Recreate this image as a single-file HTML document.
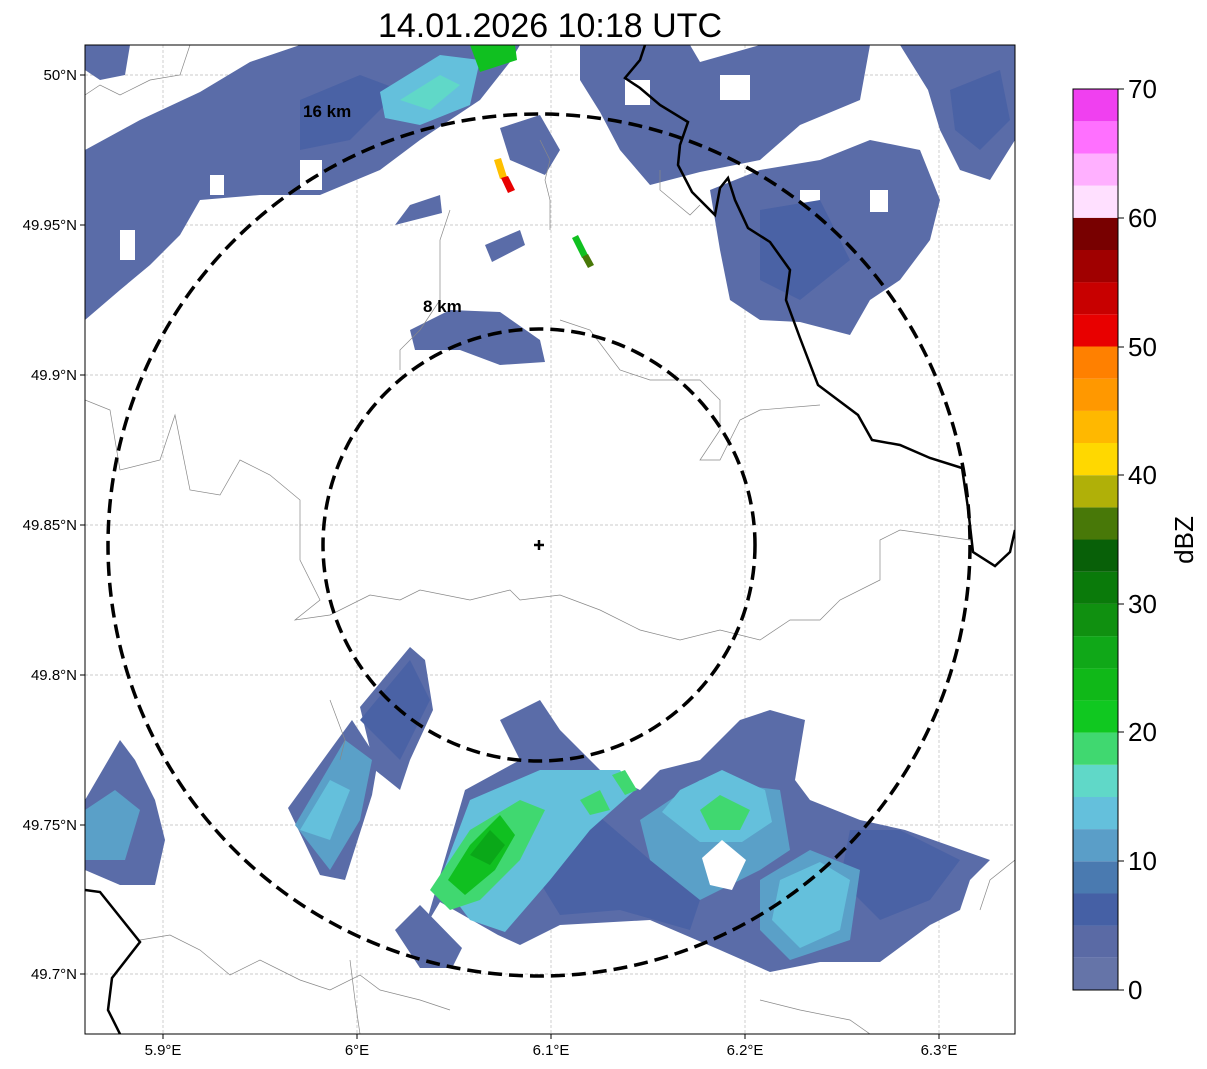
<!DOCTYPE html>
<html><head><meta charset="utf-8"><style>
html,body{margin:0;padding:0;background:#fff;}
svg{display:block;font-family:"Liberation Sans","DejaVu Sans",sans-serif;}
</style></head><body>
<svg width="1207" height="1069" viewBox="0 0 1207 1069" xmlns="http://www.w3.org/2000/svg">
<rect width="1207" height="1069" fill="#fff"/>
<text x="550" y="37" font-size="34" text-anchor="middle">14.01.2026 10:18 UTC</text>
<defs><clipPath id="ax"><rect x="85" y="45" width="930" height="989"/></clipPath></defs>
<g clip-path="url(#ax)">
<g stroke="#bbb" stroke-width="0.7" stroke-dasharray="3,2">
<line x1="85" y1="75" x2="1015" y2="75"/><line x1="85" y1="225" x2="1015" y2="225"/>
<line x1="85" y1="375" x2="1015" y2="375"/><line x1="85" y1="525" x2="1015" y2="525"/>
<line x1="85" y1="675" x2="1015" y2="675"/><line x1="85" y1="825" x2="1015" y2="825"/>
<line x1="85" y1="974" x2="1015" y2="974"/>
<line x1="163" y1="45" x2="163" y2="1034"/><line x1="357" y1="45" x2="357" y2="1034"/>
<line x1="551" y1="45" x2="551" y2="1034"/><line x1="745" y1="45" x2="745" y2="1034"/>
<line x1="939" y1="45" x2="939" y2="1034"/>
</g>
<g fill="#5a6ca8">
<polygon points="85,150 140,120 200,92 250,62 300,45 520,45 510,62 480,100 420,140 380,170 320,195 260,195 200,200 180,235 150,265 120,290 85,320"/>
<polygon points="85,45 130,45 125,75 100,80 85,70"/>
<polygon points="580,45 690,45 700,62 760,45 870,45 860,100 800,125 760,160 700,172 650,185 620,150 600,112 580,80"/>
<polygon points="900,45 1015,45 1015,140 990,180 960,170 940,130 928,90"/>
<polygon points="710,190 760,170 820,160 870,140 920,150 940,200 930,240 900,280 870,300 850,335 800,322 760,320 730,300 720,250"/>
<polygon points="410,205 440,195 442,213 395,225"/>
<polygon points="485,245 520,230 525,245 492,262"/>
<polygon points="410,330 450,310 500,312 540,340 545,362 500,365 460,350 415,350"/>
<polygon points="500,128 540,115 560,150 545,175 510,160"/>
</g>
<g fill="#fff">
<rect x="300" y="160" width="22" height="30"/><rect x="350" y="80" width="18" height="25"/>
<rect x="210" y="175" width="14" height="20"/><rect x="120" y="230" width="15" height="30"/>
<rect x="625" y="80" width="25" height="25"/><rect x="720" y="75" width="30" height="25"/>
<rect x="800" y="190" width="20" height="25"/><rect x="870" y="190" width="18" height="22"/>
<rect x="960" y="95" width="14" height="18"/>
</g>
<g fill="#4a62a5"><polygon points="300,100 360,75 400,90 350,140 300,150"/><polygon points="760,210 820,200 850,260 800,300 760,280"/><polygon points="950,90 1000,70 1010,120 980,150 955,130"/></g>
<polygon points="380,92 440,55 480,60 470,105 420,125 385,118" fill="#64c0dc"/>
<polygon points="400,100 440,75 460,85 430,110" fill="#60d8c8"/>
<polygon points="470,45 515,45 517,60 480,72" fill="#10c020"/>
<polygon points="494,160 501,158 507,177 500,179" fill="#ffc000"/>
<polygon points="501,178 508,176 515,190 508,193" fill="#e80000"/>
<polygon points="572,238 578,235 588,255 582,258" fill="#10c020"/>
<polygon points="582,257 588,254 594,265 588,268" fill="#487808"/>
<g fill="#5a6ca8">
<polygon points="85,800 120,740 135,760 155,800 165,840 155,885 120,885 85,870"/>
<polygon points="288,808 352,720 378,760 372,795 345,880 320,875"/>
<polygon points="360,707 410,647 425,660 433,710 410,760 400,790 375,770"/>
<polygon points="425,927 465,790 520,760 500,720 540,700 560,730 600,770 640,790 660,770 700,760 740,720 770,710 805,720 795,780 810,800 860,820 905,830 990,860 970,880 960,910 930,925 880,962 820,962 770,972 720,950 650,920 560,925 520,945 498,935 440,902"/>
<polygon points="395,930 420,905 462,948 452,968 420,968"/>
</g>
<g fill="#4a62a5">
<polygon points="520,850 580,800 650,860 700,900 690,930 620,910 560,915"/>
<polygon points="850,830 900,830 960,860 930,900 880,920 840,880"/>
<polygon points="360,720 410,660 430,700 400,760"/>
</g>
<g fill="#5aa0c8">
<polygon points="295,825 345,740 372,760 360,820 330,870"/>
<polygon points="85,810 115,790 140,810 125,860 85,860"/>
<polygon points="640,820 700,780 780,790 790,850 760,870 700,900 650,860"/>
<polygon points="760,880 810,850 860,870 850,940 790,960 760,930"/>
</g>
<g fill="#64c0dc">
<polygon points="440,880 470,800 540,770 620,770 635,790 590,830 550,880 505,932 470,920"/>
<polygon points="680,790 722,770 765,790 772,822 742,842 700,842 662,812"/>
<polygon points="780,880 820,862 850,880 840,930 800,948 772,920"/>
<polygon points="300,830 330,780 350,790 330,840"/>
</g>
<g fill="#40d870">
<polygon points="430,890 470,830 520,800 545,810 520,860 480,900 450,910"/>
<polygon points="700,810 720,795 750,810 740,830 710,830"/>
<polygon points="580,800 600,790 610,810 590,815"/>
<polygon points="612,775 625,770 637,790 625,795"/>
</g>
<polygon points="448,880 470,845 500,815 515,835 495,870 465,895" fill="#10c020"/>
<polygon points="470,855 490,830 505,845 490,865" fill="#0aa818"/>
<polygon points="702,858 722,840 746,860 732,890 710,885" fill="#fff"/>
<g fill="none" stroke="#888" stroke-width="0.7">
<polyline points="85,95 100,85 120,95 150,80 180,75 190,45"/>
<polyline points="85,400 110,410 120,470 160,460 175,415 190,490 220,495 240,460 270,475 300,500 300,560 320,600 295,620 330,615 370,595 400,600 420,590 470,600 510,590 520,600 560,595 600,610 640,630 680,640 720,630 760,640 790,620 820,620 840,600 880,580 880,540 900,530 970,540"/>
<polyline points="550,230 550,200 545,180 550,160 540,140"/>
<polyline points="450,210 440,240 440,300 420,330 400,350 400,370"/>
<polyline points="560,320 590,330 620,370 650,380 700,380 720,400 720,430 700,460 720,460 740,420 760,410 820,405"/>
<polyline points="330,700 345,740 340,760"/>
<polyline points="140,940 170,935 200,950 230,975 260,960 300,980 330,990 360,975 380,990 420,1000 450,1010"/>
<polyline points="350,960 355,1000 360,1034"/>
<polyline points="760,1000 800,1010 850,1020 870,1034"/>
<polyline points="1015,860 990,880 980,910"/>
<polyline points="660,170 660,190 690,215 700,205"/>
</g>
<polyline fill="none" stroke="#000" stroke-width="2.5" points="645,45 640,60 625,78 640,88 660,105 688,122 680,145 678,165 692,192 715,215 720,188 728,178 735,200 748,228 770,242 790,270 786,300 800,338 818,385 858,415 872,440 900,445 930,458 962,468 968,508 973,552 995,566 1010,552 1015,530"/>
<polyline fill="none" stroke="#000" stroke-width="2.5" points="85,890 100,892 140,942 112,978 108,1010 120,1034"/>
<circle cx="539" cy="545" r="431" fill="none" stroke="#000" stroke-width="3.5" stroke-dasharray="14,7"/>
<circle cx="539" cy="545" r="216" fill="none" stroke="#000" stroke-width="3.5" stroke-dasharray="14,7"/>
<path d="M539,540 V550 M534,545 H544" stroke="#000" stroke-width="2.5"/>
<text x="303" y="117" font-size="17" font-weight="bold">16 km</text>
<text x="423" y="312" font-size="17" font-weight="bold">8 km</text>
</g>
<rect x="85" y="45" width="930" height="989" fill="none" stroke="#000" stroke-width="1"/>
<g stroke="#000" stroke-width="1">
<line x1="80" y1="75" x2="85" y2="75"/><line x1="80" y1="225" x2="85" y2="225"/><line x1="80" y1="375" x2="85" y2="375"/>
<line x1="80" y1="525" x2="85" y2="525"/><line x1="80" y1="675" x2="85" y2="675"/><line x1="80" y1="825" x2="85" y2="825"/>
<line x1="80" y1="974" x2="85" y2="974"/>
<line x1="163" y1="1034" x2="163" y2="1039"/><line x1="357" y1="1034" x2="357" y2="1039"/><line x1="551" y1="1034" x2="551" y2="1039"/>
<line x1="745" y1="1034" x2="745" y2="1039"/><line x1="939" y1="1034" x2="939" y2="1039"/>
</g>
<g font-size="15" text-anchor="end">
<text x="77" y="80">50°N</text><text x="77" y="230">49.95°N</text><text x="77" y="380">49.9°N</text>
<text x="77" y="530">49.85°N</text><text x="77" y="680">49.8°N</text><text x="77" y="830">49.75°N</text>
<text x="77" y="979">49.7°N</text>
</g>
<g font-size="15" text-anchor="middle">
<text x="163" y="1055">5.9°E</text><text x="357" y="1055">6°E</text><text x="551" y="1055">6.1°E</text>
<text x="745" y="1055">6.2°E</text><text x="939" y="1055">6.3°E</text>
</g>
<g>
<rect x="1073" y="957.8" width="45" height="32.2" fill="#6574a8"/>
<rect x="1073" y="925.6" width="45" height="32.2" fill="#5a6aa5"/>
<rect x="1073" y="893.5" width="45" height="32.2" fill="#4560a5"/>
<rect x="1073" y="861.3" width="45" height="32.2" fill="#4a7ab0"/>
<rect x="1073" y="829.1" width="45" height="32.2" fill="#5a9ec8"/>
<rect x="1073" y="796.9" width="45" height="32.2" fill="#64c0dc"/>
<rect x="1073" y="764.8" width="45" height="32.2" fill="#60d8c8"/>
<rect x="1073" y="732.6" width="45" height="32.2" fill="#40d870"/>
<rect x="1073" y="700.4" width="45" height="32.2" fill="#10c820"/>
<rect x="1073" y="668.2" width="45" height="32.2" fill="#10b818"/>
<rect x="1073" y="636.1" width="45" height="32.2" fill="#10a818"/>
<rect x="1073" y="603.9" width="45" height="32.2" fill="#109010"/>
<rect x="1073" y="571.7" width="45" height="32.2" fill="#0a7a0a"/>
<rect x="1073" y="539.5" width="45" height="32.2" fill="#086008"/>
<rect x="1073" y="507.4" width="45" height="32.2" fill="#487808"/>
<rect x="1073" y="475.2" width="45" height="32.2" fill="#b0b008"/>
<rect x="1073" y="443" width="45" height="32.2" fill="#ffd800"/>
<rect x="1073" y="410.8" width="45" height="32.2" fill="#ffb800"/>
<rect x="1073" y="378.7" width="45" height="32.2" fill="#ff9800"/>
<rect x="1073" y="346.5" width="45" height="32.2" fill="#ff8000"/>
<rect x="1073" y="314.3" width="45" height="32.2" fill="#e80000"/>
<rect x="1073" y="282.1" width="45" height="32.2" fill="#c80000"/>
<rect x="1073" y="250" width="45" height="32.2" fill="#a00000"/>
<rect x="1073" y="217.8" width="45" height="32.2" fill="#780000"/>
<rect x="1073" y="185.6" width="45" height="32.2" fill="#ffe0ff"/>
<rect x="1073" y="153.4" width="45" height="32.2" fill="#ffb0ff"/>
<rect x="1073" y="121.3" width="45" height="32.2" fill="#ff70ff"/>
<rect x="1073" y="89" width="45" height="32.3" fill="#f040f0"/>
<rect x="1073" y="89" width="45" height="901" fill="none" stroke="#000" stroke-width="1"/>
</g>
<g font-size="26">
<text x="1128" y="999">0</text><text x="1128" y="870">10</text><text x="1128" y="741">20</text>
<text x="1128" y="613">30</text><text x="1128" y="484">40</text><text x="1128" y="356">50</text>
<text x="1128" y="227">60</text><text x="1128" y="98">70</text>
</g>
<g stroke="#000" stroke-width="1">
<line x1="1118" y1="990" x2="1124" y2="990"/><line x1="1118" y1="861" x2="1124" y2="861"/>
<line x1="1118" y1="732" x2="1124" y2="732"/><line x1="1118" y1="604" x2="1124" y2="604"/>
<line x1="1118" y1="475" x2="1124" y2="475"/><line x1="1118" y1="347" x2="1124" y2="347"/>
<line x1="1118" y1="218" x2="1124" y2="218"/><line x1="1118" y1="89" x2="1124" y2="89"/>
</g>
<text x="1193" y="540" font-size="26" text-anchor="middle" transform="rotate(-90 1193 540)">dBZ</text>
</svg>
</body></html>
